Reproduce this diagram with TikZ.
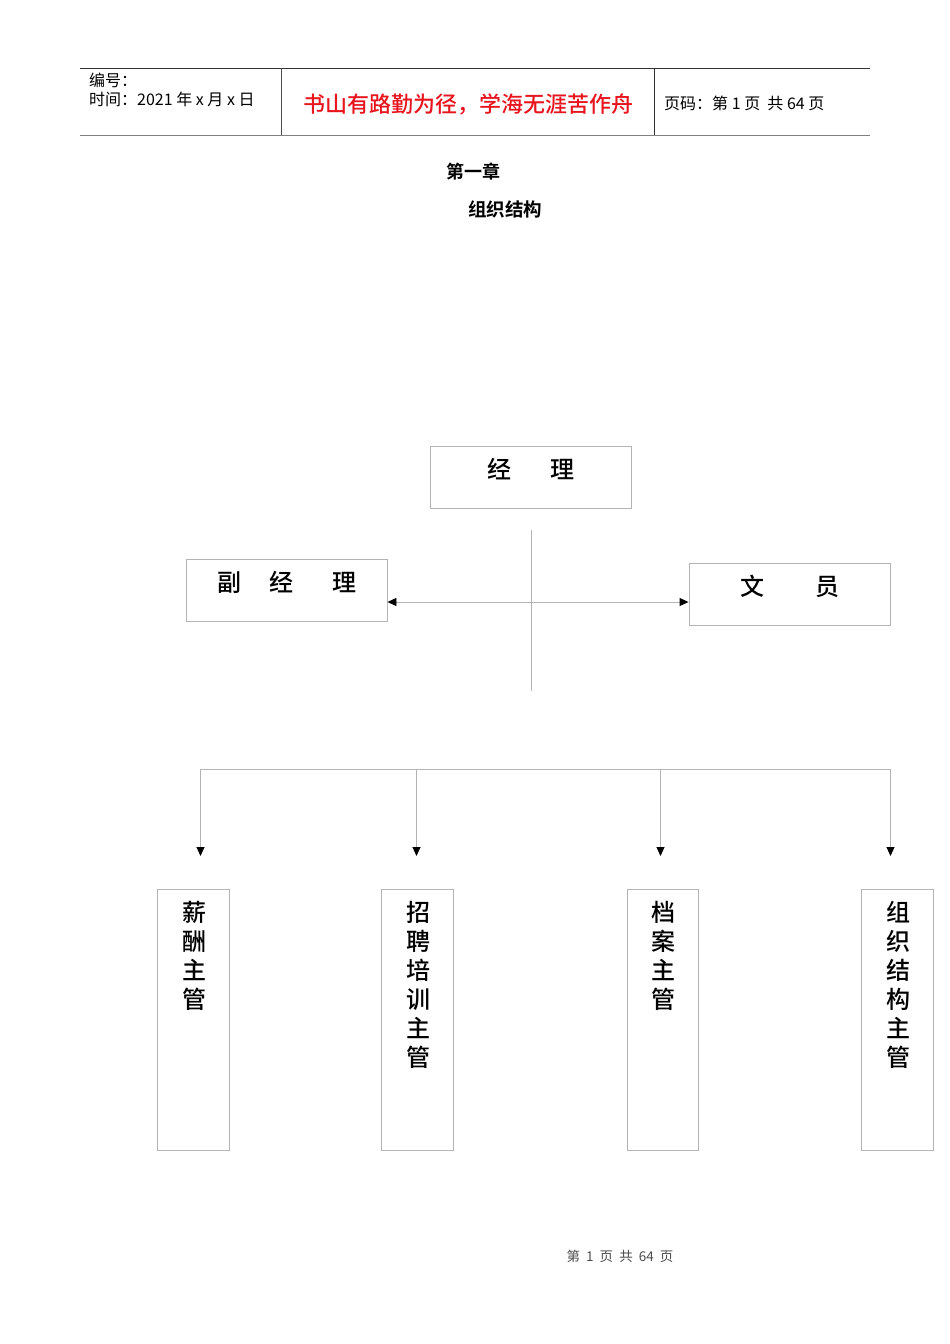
\documentclass[tikz,border=0pt]{standalone}
\usepackage{fontspec}
\setmainfont{Noto Sans CJK SC}
\newfontfamily\cjkb{Noto Sans CJK SC Bold}
\newfontfamily\cjkm{Noto Sans CJK SC Medium}
\usetikzlibrary{arrows.meta}
\definecolor{boxgray}{HTML}{B4B4B4}
\definecolor{hdrred}{HTML}{E8141E}
\tikzset{
  orgbox/.style={draw=boxgray, line width=0.9pt, inner sep=0pt},
  conn/.style={draw=boxgray, line width=0.9pt},
  tip/.style={-{Triangle[length=9pt,width=8pt,color=black]}, conn},
  boxtext/.style={font=\cjkm\fontsize{24}{29}\selectfont, inner sep=0pt},
  vtext/.style={font=\cjkm\fontsize{24}{29}\selectfont, inner sep=0pt, align=center, anchor=north},
  hdr/.style={font=\fontsize{16}{19}\selectfont, inner sep=0pt, anchor=west},
}
\begin{document}
\begin{tikzpicture}[x=1pt,y=-1pt]
\useasboundingbox (0,0) rectangle (950,1344);
% header
\draw[line width=0.9pt, color=black!80] (80,68) -- (870,68);
\draw[line width=1.4pt, color=black!50] (80,135.5) -- (870,135.5);
\draw[line width=0.9pt, color=black!70] (281,68) -- (281,135);
\draw[line width=0.9pt, color=black!80] (654,68) -- (654,135);
\node[hdr] (h1) at (89,80) {编号：};
\node[hdr] (h2) at (89,99) {时间：2021 年 x 月 x 日};
\node[inner sep=0pt, text=hdrred, font=\cjkm\fontsize{22}{26}\selectfont] (h3) at (468,104) {书山有路勤为径，学海无涯苦作舟};
\node[hdr] (h4) at (664,103) {页码：第 1 页\ \ 共 64 页};
% titles
\node[inner sep=0pt, font=\cjkb\fontsize{18}{21}\selectfont] (t1) at (473,172) {第一章};
\node[inner sep=0pt, font=\cjkb\fontsize{18.5}{21}\selectfont] (t2) at (505,209) {组织结构};
% top boxes
\node[orgbox, minimum width=201pt, minimum height=62pt] (mgr) at (530.5,477) {};
\node[boxtext] (mgrt) at (531,469) {经\hspace{40pt}理};
\node[orgbox, minimum width=201pt, minimum height=62pt] (dep) at (286.5,590) {};
\node[boxtext] (dept) at (287,582) {副\hspace{29pt}经\hspace{39pt}理};
\node[orgbox, minimum width=201pt, minimum height=62pt] (clk) at (789.5,594) {};
\node[boxtext] (clkt) at (790,586) {文\hspace{52pt}员};
% cross connectors
\coordinate (vtop) at (531,530);
\coordinate (vbot) at (531,691);
\draw[conn] (vtop) -- (vbot);
\draw[conn, {Triangle[length=9pt,width=8pt,color=black]}-{Triangle[length=9pt,width=8pt,color=black]}] (dep.east |- 0,602) -- (clk.west |- 0,602);
% bottom bus
\coordinate (b1) at (200.5,769);
\coordinate (b2) at (416.5,769);
\coordinate (b3) at (660.5,769);
\coordinate (b4) at (890.5,769);
\draw[conn] (b1) -- (b4);
\coordinate (e1) at (200.5,856);
\coordinate (e2) at (416.5,856);
\coordinate (e3) at (660.5,856);
\coordinate (e4) at (890.5,856);
\draw[tip] (b1) -- (e1);
\draw[tip] (b2) -- (e2);
\draw[tip] (b3) -- (e3);
\draw[tip] (b4) -- (e4);
% bottom boxes
\node[orgbox, minimum width=72pt, minimum height=261pt] (s1) at (193,1019.5) {};
\node[orgbox, minimum width=72pt, minimum height=261pt] (s2) at (417,1019.5) {};
\node[orgbox, minimum width=71pt, minimum height=261pt] (s3) at (662.5,1019.5) {};
\node[orgbox, minimum width=72pt, minimum height=261pt] (s4) at (897,1019.5) {};
\node[vtext] (s1t) at (194,901) {薪\\酬\\主\\管};
\node[vtext] (s2t) at (418,901) {招\\聘\\培\\训\\主\\管};
\node[vtext] (s3t) at (663,901) {档\\案\\主\\管};
\node[vtext] (s4t) at (898,901) {组\\织\\结\\构\\主\\管};
% footer
\node[inner sep=0pt, text=black!70, font=\fontsize{13.5}{16}\selectfont] (ft) at (620,1256) {第\ \ 1\ \ 页\ \ 共\ \ 64\ \ 页};
\end{tikzpicture}
\end{document}
